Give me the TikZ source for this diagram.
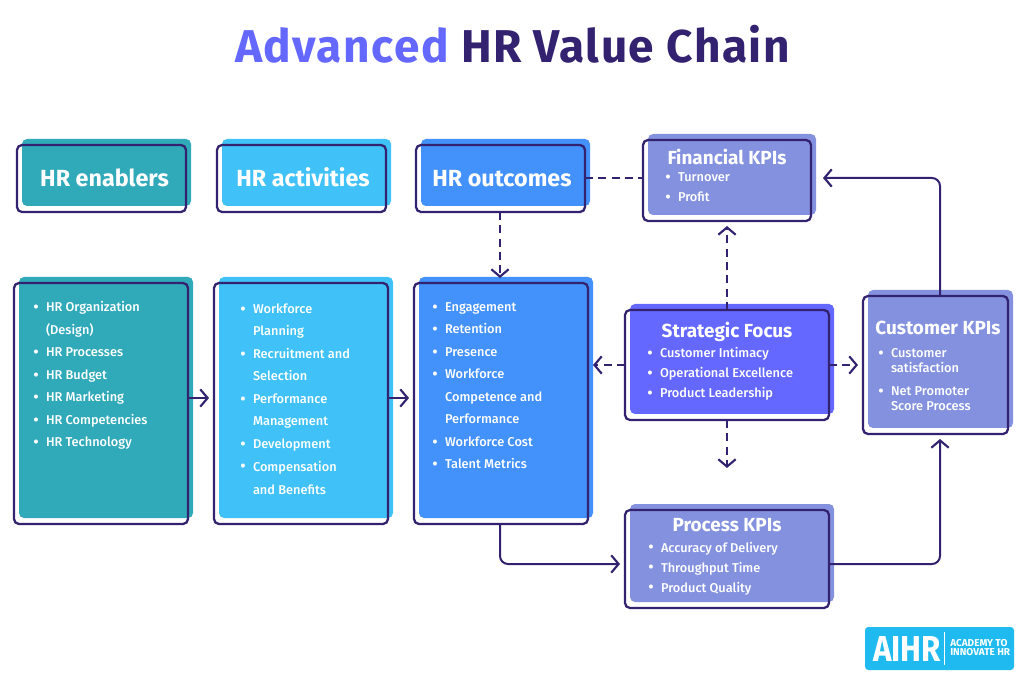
\documentclass[tikz,border=0pt]{standalone}
\usepackage{fontspec}
\setmainfont{Fira Sans}
\newfontfamily\medfont{Fira Sans Medium}
\usetikzlibrary{arrows.meta,calc}
\definecolor{cteal}{HTML}{30A9B9}
\definecolor{csky}{HTML}{40C1F7}
\definecolor{cblue}{HTML}{4391FA}
\definecolor{cperi}{HTML}{8491DF}
\definecolor{cindigo}{HTML}{6468FF}
\definecolor{cdark}{HTML}{33226F}
\definecolor{clogo}{HTML}{1FBBF0}
\tikzset{
  panel/.style={rounded corners=3.75pt,inner sep=0pt,outer sep=0pt,draw=none},
  frame/.style={rounded corners=3.75pt,inner sep=0pt,outer sep=0pt,draw=cdark,line width=1.7pt},
  item/.style={anchor=base west,inner sep=0pt,outer sep=0pt,text=white,font=\medfont\fontsize{9.6pt}{11pt}\selectfont},
  boxtitle/.style={anchor=base,inner sep=0pt,outer sep=0pt,text=white,font=\fontsize{14.2pt}{16pt}\selectfont\bfseries},
  headtitle/.style={anchor=base,inner sep=0pt,outer sep=0pt,text=white,font=\fontsize{17.5pt}{20pt}\selectfont\bfseries},
  conn/.style={draw=cdark,line width=1.5pt,rounded corners=6pt},
  dashconn/.style={conn,dash pattern=on 6pt off 4pt},
  tipped/.style={-{Straight Barb[length=5.5pt,width=13pt,line width=1.6pt]},shorten >=3.75pt}
}
\newcommand{\hrbox}[6]{%
  \node[panel,fill=#6,minimum width={(#4-#2)*0.75pt},minimum height={(#5-#3)*0.75pt}] (#1-fill) at ({(#2+#4)/2+5},{(#3+#5)/2-6}) {};
  \node[frame,minimum width={(#4-#2)*0.75pt},minimum height={(#5-#3)*0.75pt}] (#1) at ({(#2+#4)/2},{(#3+#5)/2}) {};
}
\newcommand{\hli}[5]{\node[item] (#1) at (#2,#3) {\llap{\raisebox{-0.4pt}{\fontsize{12pt}{11pt}\selectfont\textbullet}\hspace{#4pt}}#5};}
\newcommand{\hlc}[4]{\node[item] (#1) at (#2,#3) {#4};}
\begin{document}
\begin{tikzpicture}[x=0.75pt,y=-0.75pt]
\useasboundingbox (0,0) rectangle (1024,680);
% title
\node[anchor=base,inner sep=0pt,font=\fontsize{34.5pt}{40pt}\selectfont\bfseries\addfontfeatures{LetterSpace=3.2}] (title) at (512.5,63)
  {\textcolor{cindigo}{Advanced} \textcolor{cdark}{HR Value Chain}};
% boxes
\hrbox{enablers}{17}{145}{186}{212}{cteal}
\hrbox{activities}{217}{145}{386}{212}{csky}
\hrbox{outcomes}{416}{145}{585}{212}{cblue}
\hrbox{bigA}{14}{283}{188}{524}{cteal}
\hrbox{bigB}{214}{283}{388}{524}{csky}
\hrbox{bigC}{414}{283}{588}{524}{cblue}
\hrbox{financial}{643}{140}{811}{221}{cperi}
\hrbox{strategic}{625}{310}{829}{420}{cindigo}
\hrbox{customer}{863}{296}{1008}{434}{cperi}
\hrbox{process}{625}{510}{829}{608}{cperi}
% head titles
\node[headtitle] (t1) at (104.5,187) {HR enablers};
\node[headtitle] (t2) at (303,187) {HR activities};
\node[headtitle] (t3) at (502,187) {HR outcomes};
\node[boxtitle] (t4) at (727,165) {Financial KPIs};
\node[boxtitle] (t5) at (727,338) {Strategic Focus};
\node[boxtitle] (t6) at (938,335) {Customer KPIs};
\node[boxtitle] (t7) at (727,531) {Process KPIs};
% lists
\hli{a1}{46}{312}{5.5}{HR Organization}
\hlc{a1b}{46}{335}{(Design)}
\hli{a2}{46}{357}{5.5}{HR Processes}
\hli{a3}{46}{380}{5.5}{HR Budget}
\hli{a4}{46}{402}{5.5}{HR Marketing}
\hli{a5}{46}{425}{5.5}{HR Competencies}
\hli{a6}{46}{447}{5.5}{HR Technology}
\hli{b1}{253}{314}{5.5}{Workforce}
\hlc{b1b}{253}{336}{Planning}
\hli{b2}{253}{359}{5.5}{Recruitment and}
\hlc{b2b}{253}{381}{Selection}
\hli{b3}{253}{404}{5.5}{Performance}
\hlc{b3b}{253}{426}{Management}
\hli{b4}{253}{449}{5.5}{Development}
\hli{b5}{253}{471}{5.5}{Compensation}
\hlc{b5b}{253}{494}{and Benefits}
\hli{c1}{445}{312}{5.5}{Engagement}
\hli{c2}{445}{334}{5.5}{Retention}
\hli{c3}{445}{357}{5.5}{Presence}
\hli{c4}{445}{379}{5.5}{Workforce}
\hlc{c4b}{445}{402}{Competence and}
\hlc{c4c}{445}{424}{Performance}
\hli{c5}{445}{447}{5.5}{Workforce Cost}
\hli{c6}{445}{469}{5.5}{Talent Metrics}
\hli{f1}{678}{182}{5.5}{Turnover}
\hli{f2}{678}{202}{5.5}{Profit}
\hli{s1}{660}{358}{5.5}{Customer Intimacy}
\hli{s2}{660}{378}{5.5}{Operational Excellence}
\hli{s3}{660}{398}{5.5}{Product Leadership}
\hli{k1}{891}{358}{5.5}{Customer}
\hlc{k1b}{891}{373}{satisfaction}
\hli{k2}{891}{396}{5.5}{Net Promoter}
\hlc{k2b}{891}{411}{Score Process}
\hli{p1}{661}{552}{5.5}{Accuracy of Delivery}
\hli{p2}{661}{572}{5.5}{Throughput Time}
\hli{p3}{661}{592}{5.5}{Product Quality}
% anchors for connector heights
\coordinate (rowA) at (0,398);
\coordinate (rowT) at (0,178);
\coordinate (colC) at (500,0);
\coordinate (rowP) at (0,564);
\coordinate (colK) at (940,0);
\coordinate (endS) at (727,473);
% connectors
\draw[conn,tipped] (bigA.east |- rowA) -- (bigB.west |- rowA);
\draw[conn,tipped] (bigB.east |- rowA) -- (bigC.west |- rowA);
\draw[dashconn] (outcomes.east |- rowT) -- (financial.west |- rowT);
\draw[dashconn,tipped] (outcomes.south -| colC) -- (bigC.north -| colC);
\draw[conn,tipped] (bigC.south -| colC) -- (colC |- rowP) -- (process.west |- rowP);
\draw[conn,tipped] (process.east |- rowP) -- (colK |- rowP) -- (customer.south -| colK);
\draw[conn,tipped,shorten >=9pt] (customer.north -| colK) -- (colK |- rowT) -- (financial.east |- rowT);
\draw[dashconn,tipped] (strategic.north) -- (financial.south -| strategic.north);
\draw[dashconn,tipped] (strategic.south) -- (endS);
\draw[dashconn,tipped] (strategic.west) -- (bigC.east |- strategic.west);
\draw[dashconn,tipped] (strategic.east) -- (customer.west |- strategic.east);
% logo
\node[inner sep=0pt,outer sep=0pt,rounded corners=2.5pt,fill=clogo,minimum width=111.75pt,minimum height=32.25pt] (logo) at (939.5,648.5) {};
\node[anchor=base west,inner sep=0pt,text=white,font=\fontsize{27pt}{28pt}\selectfont\bfseries\addfontfeatures{FakeStretch=0.87}] (aihr) at (873,661.5) {AIHR};
\coordinate (divT) at (944.5,632);
\coordinate (divB) at (944.5,665);
\draw[white,line width=0.7pt] (divT) -- (divB);
\node[anchor=base west,inner sep=0pt,text=white,font=\fontsize{7.5pt}{8pt}\selectfont\bfseries] (ac1) at (950,646) {ACADEMY TO};
\node[anchor=base west,inner sep=0pt,text=white,font=\fontsize{7.5pt}{8pt}\selectfont\bfseries] (ac2) at (950,655.5) {INNOVATE HR};
\end{tikzpicture}
\end{document}
